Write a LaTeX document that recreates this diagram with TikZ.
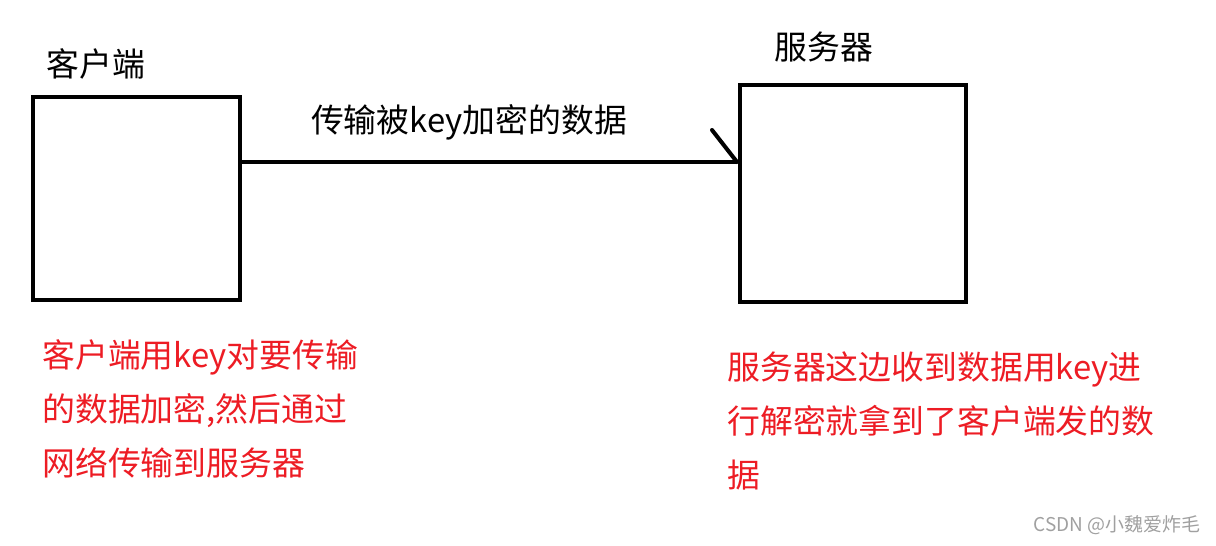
\documentclass[tikz,border=0pt]{standalone}
\usepackage{fontspec}
\setmainfont{Noto Sans CJK SC}
\usepackage{xcolor}
\usepackage{tikz}
\usetikzlibrary{arrows}
\usetikzlibrary{calc}

\definecolor{penred}{HTML}{ED1C24}
\definecolor{markgray}{HTML}{A0A0A0}

\tikzset{
  box/.style={draw=black, line width=2.3pt, rectangle, inner sep=0pt},
  title/.style={inner sep=0pt, font=\fontsize{18.7}{22}\selectfont},
  note/.style={inner sep=0pt, anchor=north west, align=left, text=penred,
    font=\fontsize{18.7}{30.7}\selectfont}
}

\begin{document}
\begin{tikzpicture}[x=0.02cm, y=-0.02cm]
\useasboundingbox (0,0) rectangle (1216,545);

%% the two machines
\node [box, minimum width=4.14cm, minimum height=4.06cm] (client) at (136.5,198.5) {};
\node [box, minimum width=4.52cm, minimum height=4.34cm] (server) at (853,193.5) {};
\node [title] (clientname) at (96,64) {客户端};
\node [title] (servername) at (824,47) {服务器};

%% the transfer line, with its one barb
\coordinate (tip) at (737,162);
\draw [color=black, line width=2.3pt] (client.east |- tip) -- (tip);
\draw [color=black, line width=2.3pt, line cap=round] (tip) -- (712,130);
\node [title] (transfer) at (469,122) {传输被key加密的数据};

%% what each side does
\node [note] (clientnote) at (42,339) {客户端用key对要传输\\的数据加密,然后通过\\网络传输到服务器};
\node [note] (servernote) at (727,351) {服务器这边收到数据用key进\\行解密就拿到了客户端发的数\\据};

%% watermark
\node [inner sep=0pt, anchor=east, text=markgray, font=\fontsize{10.8}{13}\selectfont] (mark) at (1201,525) {CSDN @小魏爱炸毛};
\end{tikzpicture}
\end{document}
